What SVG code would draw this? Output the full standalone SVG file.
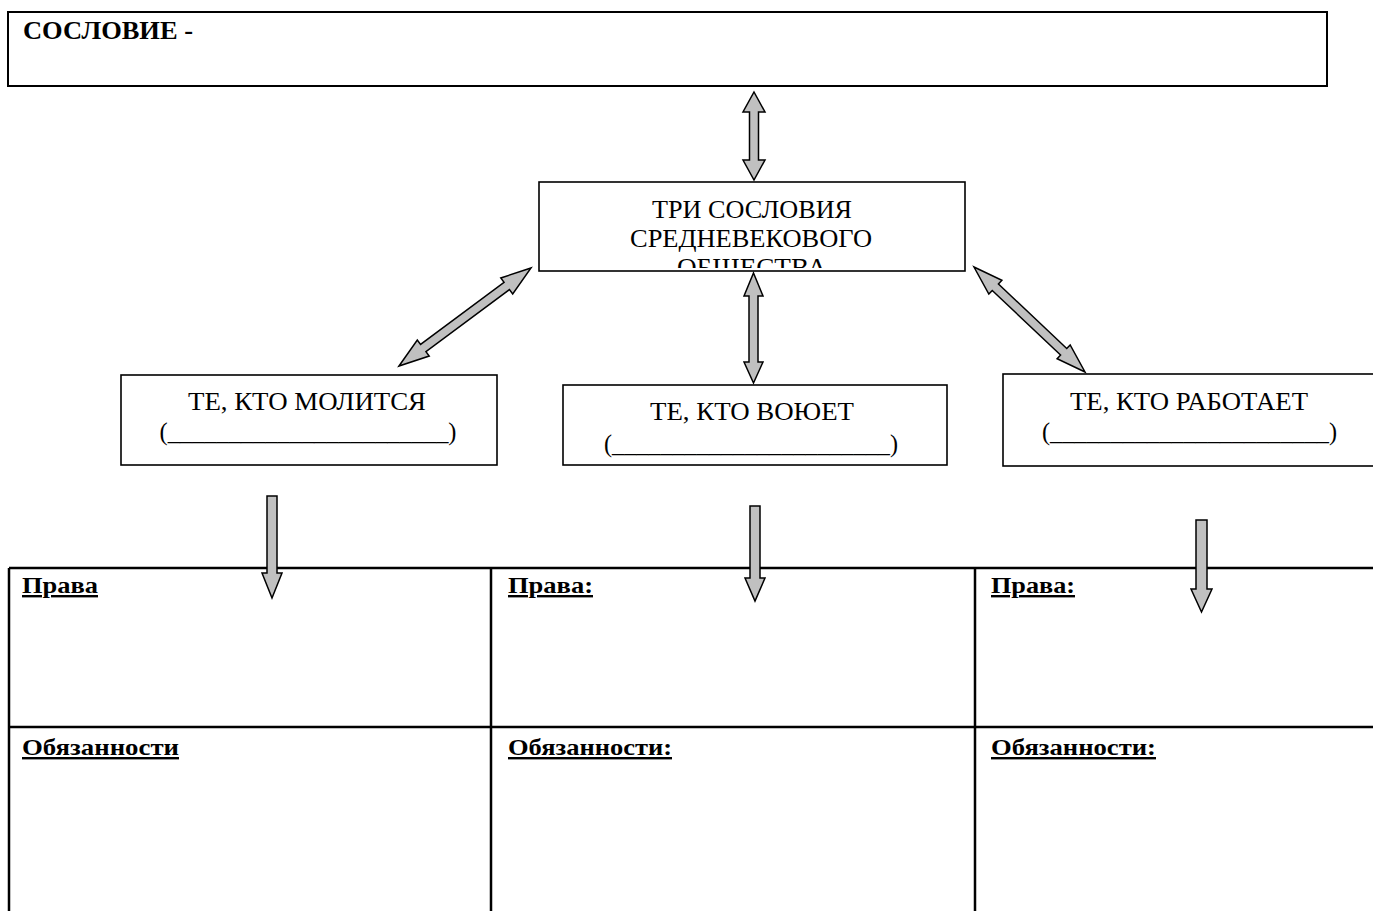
<svg xmlns="http://www.w3.org/2000/svg" width="1373" height="911" viewBox="0 0 1373 911">
<style>
.box{fill:#fff;stroke:#000;stroke-width:1.6}
.tb{fill:none;stroke:#000;stroke-width:2.5}
.t{font-family:"Liberation Serif","Times New Roman",serif;font-size:25px;fill:#000;text-anchor:middle}
.h{font-family:"Liberation Serif","Times New Roman",serif;font-size:24px;font-weight:bold;fill:#000;text-decoration:underline}
.arr{fill:#c0c0c0;stroke:#000;stroke-width:1.5;stroke-linejoin:miter}
</style>
<defs>
<clipPath id="cc"><rect x="539" y="182" width="426" height="86"/></clipPath>
</defs>
<rect width="1373" height="911" fill="#fff"/>
<g id="top">
<rect x="8" y="12" width="1319" height="74" fill="#fff" stroke="#000" stroke-width="2"/>
<text x="23" y="39" font-family="Liberation Serif,serif" font-size="26" font-weight="bold" textLength="170" lengthAdjust="spacingAndGlyphs">СОСЛОВИЕ -</text>
</g>
<g id="center">
<rect class="box" x="539" y="182" width="426" height="89"/>
<text class="t" x="752" y="218" textLength="200" lengthAdjust="spacingAndGlyphs">ТРИ СОСЛОВИЯ</text>
<text class="t" x="751" y="247" textLength="242" lengthAdjust="spacingAndGlyphs">СРЕДНЕВЕКОВОГО</text>
<text class="t" x="752" y="276" clip-path="url(#cc)" textLength="150" lengthAdjust="spacingAndGlyphs">ОБЩЕСТВА</text>
</g>
<g id="pray">
<rect class="box" x="121" y="375" width="376" height="90"/>
<text class="t" x="307" y="410" textLength="238" lengthAdjust="spacingAndGlyphs">ТЕ, КТО МОЛИТСЯ</text>
<text class="t" x="308" y="440" textLength="297" lengthAdjust="spacingAndGlyphs">(_______________________)</text>
</g>
<g id="fight">
<rect class="box" x="563" y="385" width="384" height="80"/>
<text class="t" x="752" y="420" textLength="204" lengthAdjust="spacingAndGlyphs">ТЕ, КТО ВОЮЕТ</text>
<text class="t" x="751" y="452" textLength="294" lengthAdjust="spacingAndGlyphs">(_______________________)</text>
</g>
<g id="work">
<rect class="box" x="1003" y="374" width="400" height="92"/>
<text class="t" x="1189" y="410" textLength="238" lengthAdjust="spacingAndGlyphs">ТЕ, КТО РАБОТАЕТ</text>
<text class="t" x="1189.5" y="440" textLength="295" lengthAdjust="spacingAndGlyphs">(_______________________)</text>
</g>
<g id="table">
<path class="tb" d="M9,568 H1380 M9,727 H1380 M9,568 V915 M491,568 V915 M975,568 V915"/>
<text class="h" x="22" y="593" textLength="76" lengthAdjust="spacingAndGlyphs">Права</text>
<text class="h" x="508" y="593" textLength="85" lengthAdjust="spacingAndGlyphs">Права:</text>
<text class="h" x="991" y="593" textLength="84" lengthAdjust="spacingAndGlyphs">Права:</text>
<text class="h" x="22" y="755" textLength="157" lengthAdjust="spacingAndGlyphs">Обязанности</text>
<text class="h" x="508" y="755" textLength="164" lengthAdjust="spacingAndGlyphs">Обязанности:</text>
<text class="h" x="991" y="755" textLength="165" lengthAdjust="spacingAndGlyphs">Обязанности:</text>
</g>
<g id="connectors">
<path class="arr" transform="translate(754,136) rotate(90)" d="M-44,0 L-24,-11 L-24,-4.5 L24,-4.5 L24,-11 L44,0 L24,11 L24,4.5 L-24,4.5 L-24,11 Z"/>
<path class="arr" transform="translate(753.5,328) rotate(90)" d="M-55,0 L-32,-9.5 L-32,-4.5 L34,-4.5 L34,-9.5 L55,0 L34,9.5 L34,4.5 L-32,4.5 L-32,9.5 Z"/>
<path class="arr" transform="translate(465,317) rotate(-36.6)" d="M-82.2,0 L-52,-10 L-52,-4.5 L52,-4.5 L52,-10 L82.2,0 L52,10 L52,4.5 L-52,4.5 L-52,10 Z"/>
<path class="arr" transform="translate(1029.5,319.5) rotate(43.4)" d="M-76.4,0 L-47,-9.5 L-47,-4.5 L47,-4.5 L47,-9.5 L76.4,0 L47,9.5 L47,4.5 L-47,4.5 L-47,9.5 Z"/>
<path class="arr" d="M267,496 H277 V573 H282 L272,598 L262,573 H267 Z"/>
<path class="arr" d="M750,506 H760 V578 H765 L755,601 L745,578 H750 Z"/>
<path class="arr" d="M1196,520 H1207 V589 H1212 L1201.5,612 L1191,589 H1196 Z"/>
</g>
</svg>
